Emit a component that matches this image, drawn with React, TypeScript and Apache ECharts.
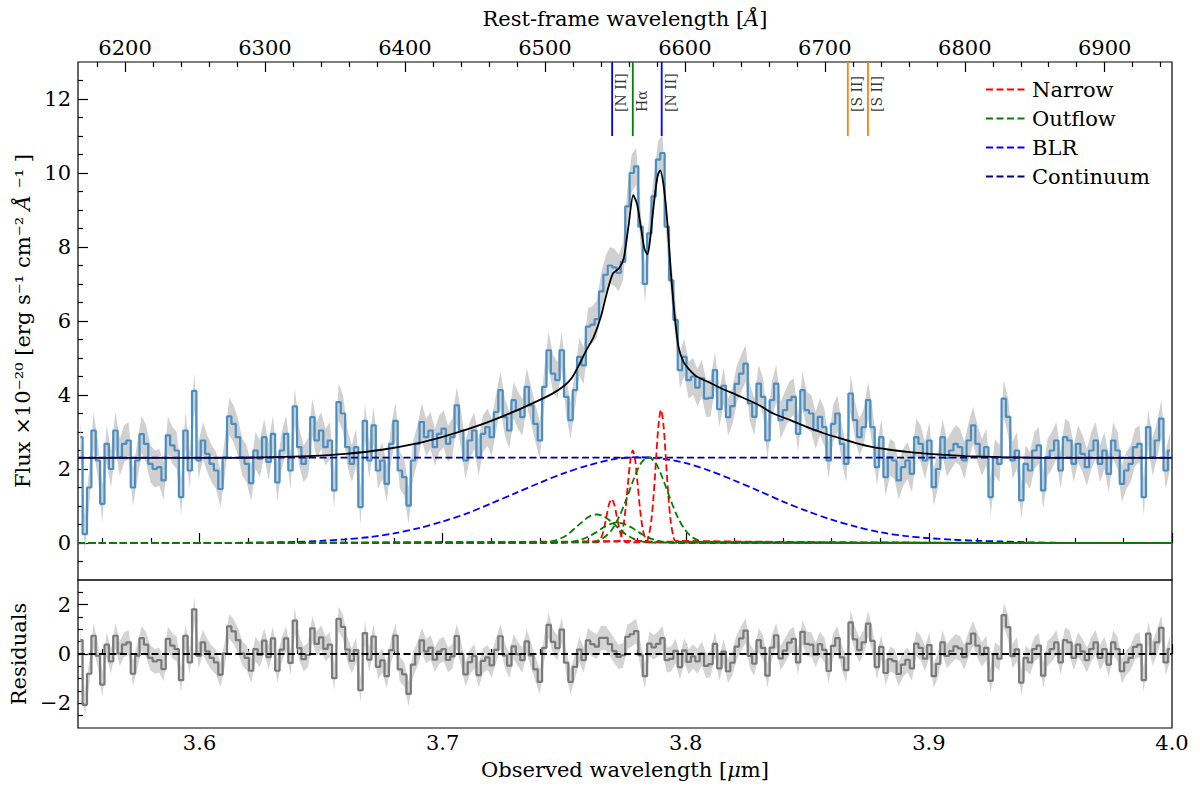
import { useEffect, useRef } from 'react';
import * as echarts from 'echarts';

const FONT = 'DejaVu Serif';

// observed wavelength range [um] and the (1+z) factor linking it to the rest frame
const OBS_MIN = 3.55;
const OBS_MAX = 4.0;
const ONE_PLUS_Z = 5.757;
const REST_MIN = (OBS_MIN * 1e4) / ONE_PLUS_Z;
const REST_MAX = (OBS_MAX * 1e4) / ONE_PLUS_Z;

// spectrum pixel grid [um]
const WAVE_START = 3.551;
const WAVE_STEP = 0.0018;

// observed flux, x1e-20 erg/s/cm2/A, one value per pixel
const FLUX = [
  2.86, 0.24, 1.5, 3.04, 2.23, 1.06, 2.68, 2.0, 3.04, 2.32,
  2.68, 2.77, 1.5, 2.23, 2.94, 2.68, 2.14, 2.0, 2.05, 1.69,
  2.91, 2.64, 2.5, 1.24, 3.04, 1.96, 4.11, 2.23, 2.77, 2.41,
  2.14, 1.96, 1.46, 2.32, 3.42, 3.22, 2.86, 2.32, 2.14, 1.62,
  2.5, 2.28, 2.86, 2.19, 2.95, 1.64, 2.5, 2.95, 1.96, 3.69,
  2.59, 2.14, 2.32, 3.4, 2.77, 3.04, 2.59, 2.77, 1.42, 3.81,
  3.5, 2.59, 2.14, 2.59, 0.97, 3.3, 2.23, 3.18, 1.96, 2.23,
  1.6, 2.68, 3.3, 1.96, 1.78, 1.01, 2.23, 2.68, 3.27, 2.86,
  3.04, 2.59, 2.95, 3.09, 2.68, 2.86, 3.72, 3.04, 2.23, 2.77,
  3.04, 2.32, 2.95, 3.13, 2.86, 3.54, 4.13, 3.4, 3.04, 3.86,
  3.59, 3.4, 4.22, 3.72, 3.22, 2.77, 4.22, 5.21, 4.58, 4.4,
  5.21, 3.95, 3.32, 4.13, 5.03, 4.8, 5.85, 5.9, 6.05, 6.8,
  7.25, 7.5, 7.45, 7.3, 7.6, 9.1, 10.0, 10.18, 8.55, 7.0,
  8.37, 9.37, 10.36, 10.54, 8.55, 7.1, 6.03, 4.67, 5.03, 4.4,
  4.5, 4.2, 4.45, 3.9, 3.92, 4.67, 3.62, 4.25, 3.4, 3.7,
  4.3, 4.58, 4.85, 3.77, 3.41, 4.31, 3.95, 2.77, 3.86, 4.31,
  3.32, 3.59, 3.86, 3.95, 2.95, 4.13, 3.59, 3.5, 3.04, 3.41,
  3.13, 2.23, 3.22, 3.5, 2.68, 2.14, 4.04, 3.32, 2.86, 3.13,
  3.86, 3.13, 2.05, 2.86, 1.78, 2.32, 2.23, 1.69, 2.05, 2.23,
  1.87, 2.86, 2.68, 2.23, 2.77, 1.51, 2.0, 2.86, 2.3, 2.5,
  2.68, 2.59, 2.23, 2.77, 3.18, 2.68, 2.32, 2.59, 1.24, 2.32,
  2.14, 3.9, 3.41, 2.23, 2.5, 1.15, 2.14, 1.96, 2.5, 2.64,
  1.42, 2.32, 2.5, 2.77, 1.96, 2.86, 2.77, 2.14, 2.68, 2.41,
  2.05, 2.5, 2.77, 2.14, 2.5, 1.87, 2.77, 2.5, 1.6, 1.96,
  2.14, 2.59, 2.68, 1.24, 3.13, 2.32, 2.77, 3.36, 1.96, 2.5,
];
const FLUX_ERR = 0.5;

// data minus model, same pixels
const RESIDUALS = [
  0.56, -2.06, -0.8, 0.74, -0.07, -1.24, 0.38, -0.3, 0.74, 0.02,
  0.38, 0.47, -0.8, -0.07, 0.64, 0.38, -0.16, -0.3, -0.25, -0.61,
  0.61, 0.34, 0.2, -1.06, 0.74, -0.34, 1.81, -0.07, 0.47, 0.11,
  -0.16, -0.34, -0.84, 0.02, 1.12, 0.92, 0.56, 0.02, -0.16, -0.68,
  0.2, -0.04, 0.54, -0.13, 0.63, -0.68, 0.18, 0.63, -0.36, 1.35,
  0.24, -0.21, -0.04, 1.04, 0.41, 0.67, 0.21, 0.38, -0.98, 1.42,
  1.1, 0.18, -0.28, 0.16, -1.47, 0.85, -0.23, 0.71, -0.52, -0.26,
  -0.9, 0.16, 0.75, -0.62, -0.83, -1.62, -0.43, -0.01, 0.55, 0.11,
  0.26, -0.23, 0.1, 0.2, -0.24, -0.1, 0.73, 0.01, -0.83, -0.33,
  -0.09, -0.86, -0.28, -0.14, -0.46, 0.17, 0.72, -0.06, -0.47, 0.31,
  -0.01, -0.25, 0.51, -0.06, -0.62, -1.13, 0.25, 1.18, 0.49, 0.24,
  0.99, -0.35, -1.13, -0.52, 0.18, -0.25, 0.55, 0.4, 0.3, 0.65,
  0.65, 0.4, 0.12, -0.12, -0.05, 0.7, 0.8, 0.93, -0.05, -0.9,
  0.42, 0.27, 0.41, 0.64, -0.25, -0.2, 0.13, -0.53, 0.15, -0.32,
  -0.1, -0.3, 0.02, -0.48, -0.41, 0.41, -0.58, 0.1, -0.7, -0.35,
  0.3, 0.63, 0.95, -0.08, -0.39, 0.56, 0.25, -0.88, 0.26, 0.76,
  -0.18, 0.14, 0.46, 0.61, -0.34, 0.9, 0.41, 0.38, -0.03, 0.4,
  0.17, -0.69, 0.33, 0.64, -0.14, -0.65, 1.28, 0.59, 0.16, 0.47,
  1.23, 0.53, -0.53, 0.29, -0.77, -0.21, -0.29, -0.81, -0.43, -0.24,
  -0.58, 0.42, 0.25, -0.19, 0.36, -0.9, -0.4, 0.47, -0.08, 0.12,
  0.31, 0.23, -0.13, 0.42, 0.83, 0.34, -0.02, 0.25, -1.09, -0.01,
  -0.19, 1.58, 1.09, -0.09, 0.19, -1.16, -0.16, -0.34, 0.2, 0.34,
  -0.88, 0.02, 0.2, 0.47, -0.34, 0.56, 0.47, -0.16, 0.38, 0.11,
  -0.25, 0.2, 0.47, -0.16, 0.2, -0.43, 0.47, 0.2, -0.7, -0.34,
  -0.16, 0.29, 0.38, -1.06, 0.83, 0.02, 0.47, 1.06, -0.34, 0.2,
];
const RESID_ERR = 0.5;

// best-fit total model (black line)
const MODEL_WAVE = [
  3.55, 3.58, 3.61, 3.63, 3.645, 3.66, 3.675, 3.69, 3.7, 3.71,
  3.72, 3.73, 3.74, 3.745, 3.75, 3.753, 3.756, 3.759, 3.762, 3.765,
  3.7675, 3.77, 3.7725, 3.7745, 3.7765, 3.7784, 3.78, 3.7815, 3.783, 3.7842,
  3.7855, 3.787, 3.7885, 3.7895, 3.791, 3.7925, 3.794, 3.7955, 3.797, 3.799,
  3.801, 3.804, 3.807, 3.81, 3.815, 3.822, 3.83, 3.836, 3.843, 3.85,
  3.857, 3.864, 3.87, 3.877, 3.884, 3.891, 3.898, 3.905, 3.915, 3.93,
  3.95, 4.0,
];
const MODEL_FLUX = [
  2.3, 2.3, 2.3, 2.32, 2.35, 2.41, 2.52, 2.7, 2.87, 3.07,
  3.3, 3.57, 3.87, 4.03, 4.25, 4.45, 4.8, 5.2, 5.55, 6.1,
  6.75, 7.28, 7.42, 7.7, 8.6, 9.4, 9.15, 8.55, 7.95, 7.8,
  8.3, 9.25, 9.95, 10.07, 9.6, 8.6, 7.2, 6.1, 5.3, 4.9,
  4.72, 4.52, 4.42, 4.33, 4.17, 3.97, 3.73, 3.5, 3.32, 3.13,
  2.96, 2.82, 2.7, 2.59, 2.52, 2.46, 2.42, 2.39, 2.35, 2.32,
  2.3, 2.3,
];

const CONTINUUM = 2.31;

// broad line region component, sampled every 0.01 um from 3.55
const BLR_WAVE_START = 3.55;
const BLR_WAVE_STEP = 0.01;
const BLR_FLUX = [
  0, 0, 0, 0, 0, 0, 0, 0.01, 0.02, 0.03,
  0.06, 0.1, 0.16, 0.26, 0.4, 0.58, 0.8, 1.07, 1.35, 1.63,
  1.89, 2.1, 2.26, 2.32, 2.28, 2.16, 1.95, 1.69, 1.41, 1.12,
  0.86, 0.63, 0.44, 0.29, 0.19, 0.13, 0.09, 0.06, 0.04, 0.02,
  0.01, 0, 0, 0, 0, 0,
];

// narrow components ([N II] 6548, Ha, [N II] 6583), sampled every 0.001 um about each centre
const NARROW_STEP = 0.001;
const NARROW_CENTERS = [3.7695, 3.7782, 3.7898];
const NARROW_NII_A = [0.02, 0.07, 0.19, 0.43, 0.76, 1.06, 1.19, 1.06, 0.76, 0.43, 0.19, 0.07, 0.02];
const NARROW_HA = [0.04, 0.15, 0.41, 0.9, 1.59, 2.23, 2.5, 2.23, 1.59, 0.9, 0.41, 0.15, 0.04];
const NARROW_NII_B = [0.06, 0.21, 0.59, 1.3, 2.29, 3.21, 3.6, 3.21, 2.29, 1.3, 0.59, 0.21, 0.06];

// outflow components, sampled every 0.003 um about each centre
const OUTFLOW_STEP = 0.003;
const OUTFLOW_CENTERS = [3.7634, 3.7719, 3.7846];
const OUTFLOW_NII_A = [0.01, 0.02, 0.05, 0.12, 0.23, 0.4, 0.57, 0.72, 0.77, 0.72, 0.57, 0.4, 0.23, 0.12, 0.05, 0.02, 0.01];
const OUTFLOW_HA = [0, 0.01, 0.04, 0.09, 0.17, 0.28, 0.41, 0.51, 0.55, 0.51, 0.41, 0.28, 0.17, 0.09, 0.04, 0.01, 0];
const OUTFLOW_NII_B = [0.02, 0.06, 0.16, 0.36, 0.71, 1.19, 1.73, 2.16, 2.32, 2.16, 1.73, 1.19, 0.71, 0.36, 0.16, 0.06, 0.02];

// emission line markers (rest frame, Angstrom)
const LINE_NAMES = ['[N II]', 'Hα', '[N II]', '[S II]', '[S II]'];
const LINE_REST = [6548.05, 6562.8, 6583.45, 6716.44, 6730.82];
const LINE_COLORS = ['#0000ff', '#008000', '#0000ff', '#ff7f0e', '#ff7f0e'];
const MARKER_RANGE = [11, 13];
const MARKER_LABEL_Y = 11.65;

const OBS_TICKS = [3.6, 3.7, 3.8, 3.9, 4.0];
const REST_TICKS = [6200, 6300, 6400, 6500, 6600, 6700, 6800, 6900];
const FLUX_TICKS = [0, 2, 4, 6, 8, 10, 12];
const RESID_TICKS = [-2, 0, 2];

const minorTicks = (from: number, to: number, step: number, major: number[]) => {
  const out: number[] = [];
  for (let v = from; v <= to + 1e-9; v += step) {
    const r = Math.round(v * 1000) / 1000;
    if (!major.some((m) => Math.abs(m - r) < 1e-6)) out.push(r);
  }
  return out;
};

const wave = FLUX.map((_, i) => +(WAVE_START + i * WAVE_STEP).toFixed(4));
const blrWave = BLR_FLUX.map((_, i) => +(BLR_WAVE_START + i * BLR_WAVE_STEP).toFixed(4));

const profile = (center: number, step: number, values: number[]) => [
  [OBS_MIN, 0],
  ...values.map((v, k) => [+(center + (k - (values.length - 1) / 2) * step).toFixed(4), v]),
  [OBS_MAX, 0],
];

const FS = 21;
const tickStyle = { color: '#000', width: 1.2 };
const labelStyle = { fontFamily: FONT, fontSize: FS, color: '#000' };
const nameStyle = {
  fontFamily: FONT,
  fontSize: FS,
  color: '#000',
  rich: { i: { fontFamily: FONT, fontSize: FS, fontStyle: 'italic', color: '#000' } },
};
const minus = (v: number) => (v < 0 ? '\u2212' + Math.abs(v) : String(v));

function tickAxis(gridIndex: number, position: string, min: number, max: number, ticks: number[], length: number) {
  return {
    type: 'value',
    gridIndex,
    position,
    min,
    max,
    axisLine: { show: false },
    splitLine: { show: false },
    axisTick: { show: true, inside: true, length, customValues: ticks, lineStyle: tickStyle },
    axisLabel: { show: false },
  };
}

// error band (value +/- err) as one polygon through the axes' own coordinates
function bandSeries(id: string, values: number[], err: number, xi: number, yi: number, color: string) {
  return {
    type: 'custom',
    name: id,
    xAxisIndex: xi,
    yAxisIndex: yi,
    silent: true,
    clip: true,
    z: 1,
    data: [[wave[0], values[0]]],
    renderItem: (_params: any, api: any) => {
      const upper = values.map((v, i) => api.coord([wave[i], v + err]));
      const lower = values.map((v, i) => api.coord([wave[i], v - err])).reverse();
      return { type: 'polygon', shape: { points: [...upper, ...lower] }, style: { fill: color } };
    },
  };
}

const DASH = [7, 3.5];
function component(name: string, data: number[][], color: string, smooth: number) {
  return {
    type: 'line',
    name,
    xAxisIndex: 0,
    yAxisIndex: 0,
    data,
    symbol: 'none',
    smooth,
    silent: true,
    lineStyle: { color, width: 1.8, type: DASH },
    itemStyle: { color },
    z: 4,
  };
}

export default function App() {
  const chartRef = useRef<HTMLDivElement>(null);

  useEffect(() => {
    if (!chartRef.current) return;
    document.body.style.margin = '0';
    const chart = echarts.init(chartRef.current, null, { renderer: 'svg' });

    const gridBase = { left: 78, right: 28, show: true, borderColor: '#000', borderWidth: 1.2, backgroundColor: 'transparent', outerBoundsMode: 'none' };

    const xAxis = [
      tickAxis(0, 'bottom', OBS_MIN, OBS_MAX, OBS_TICKS, 10),
      tickAxis(0, 'bottom', OBS_MIN, OBS_MAX, minorTicks(3.56, 3.98, 0.02, OBS_TICKS), 5),
      {
        ...tickAxis(0, 'top', REST_MIN, REST_MAX, REST_TICKS, 10),
        axisLabel: { show: true, customValues: REST_TICKS, margin: 4, formatter: (v: number) => String(Math.round(v)), ...labelStyle },
        name: 'Rest-frame wavelength [{i|Å}]',
        nameLocation: 'middle',
        nameGap: 33,
        nameTextStyle: nameStyle,
      },
      tickAxis(0, 'top', REST_MIN, REST_MAX, minorTicks(6180, 6940, 20, REST_TICKS), 5),
      {
        ...tickAxis(1, 'bottom', OBS_MIN, OBS_MAX, OBS_TICKS, 10),
        axisLabel: { show: true, customValues: OBS_TICKS, margin: 4, formatter: (v: number) => v.toFixed(1), ...labelStyle },
        name: 'Observed wavelength [{i|μ}m]',
        nameLocation: 'middle',
        nameGap: 31,
        nameTextStyle: nameStyle,
      },
      tickAxis(1, 'bottom', OBS_MIN, OBS_MAX, minorTicks(3.56, 3.98, 0.02, OBS_TICKS), 5),
    ];

    const yAxis = [
      {
        ...tickAxis(0, 'left', -1, 13, FLUX_TICKS, 10),
        axisLabel: { show: true, customValues: FLUX_TICKS, margin: 7, formatter: minus, ...labelStyle },
        name: 'Flux ×10⁻²⁰ [erg s⁻¹ cm⁻² {i|Å} ⁻¹ ]',
        nameLocation: 'middle',
        nameGap: 44,
        nameTextStyle: nameStyle,
      },
      tickAxis(0, 'left', -1, 13, minorTicks(-0.5, 12.5, 0.5, FLUX_TICKS), 5),
      {
        ...tickAxis(1, 'left', -3, 3, RESID_TICKS, 10),
        axisLabel: { show: true, customValues: RESID_TICKS, margin: 7, formatter: minus, ...labelStyle },
        name: 'Residuals',
        nameLocation: 'middle',
        nameGap: 44,
        nameTextStyle: nameStyle,
      },
      tickAxis(1, 'left', -3, 3, minorTicks(-2.5, 2.5, 0.5, RESID_TICKS), 5),
    ];

    const series: any[] = [
      bandSeries('fluxErr', FLUX, FLUX_ERR, 0, 0, '#d0d0d0'),
      {
        type: 'line',
        name: 'data',
        xAxisIndex: 0,
        yAxisIndex: 0,
        data: FLUX.map((v, i) => [wave[i], v]),
        step: 'middle',
        symbol: 'none',
        silent: true,
        lineStyle: { color: '#4a8fc4', width: 2.2 },
        z: 2,
      },
      {
        type: 'line',
        name: 'model',
        xAxisIndex: 0,
        yAxisIndex: 0,
        data: MODEL_WAVE.map((w, i) => [w, MODEL_FLUX[i]]),
        smooth: 0.25,
        symbol: 'none',
        silent: true,
        lineStyle: { color: '#000', width: 1.8 },
        z: 3,
      },
      component('Continuum', [[OBS_MIN, CONTINUUM], [OBS_MAX, CONTINUUM]], '#000080', 0),
      component('BLR', blrWave.map((w, i) => [w, BLR_FLUX[i]]), '#0000ff', 0.3),
      component('Narrow', profile(NARROW_CENTERS[0], NARROW_STEP, NARROW_NII_A), '#ff0000', 0.3),
      component('Narrow', profile(NARROW_CENTERS[1], NARROW_STEP, NARROW_HA), '#ff0000', 0.3),
      component('Narrow', profile(NARROW_CENTERS[2], NARROW_STEP, NARROW_NII_B), '#ff0000', 0.3),
      component('Outflow', profile(OUTFLOW_CENTERS[0], OUTFLOW_STEP, OUTFLOW_NII_A), '#008000', 0.3),
      component('Outflow', profile(OUTFLOW_CENTERS[1], OUTFLOW_STEP, OUTFLOW_HA), '#008000', 0.3),
      component('Outflow', profile(OUTFLOW_CENTERS[2], OUTFLOW_STEP, OUTFLOW_NII_B), '#008000', 0.3),
      ...LINE_REST.map((rest, k) => ({
        type: 'line',
        name: 'marker' + k,
        xAxisIndex: 2,
        yAxisIndex: 0,
        data: MARKER_RANGE.map((y) => [rest, y]),
        symbol: 'none',
        silent: true,
        lineStyle: { color: LINE_COLORS[k], width: 1.8 },
        z: 5,
      })),
      {
        type: 'scatter',
        name: 'marker-labels',
        xAxisIndex: 2,
        yAxisIndex: 0,
        symbolSize: 0,
        silent: true,
        data: LINE_REST.map((rest, k) => ({ name: LINE_NAMES[k], value: [rest, MARKER_LABEL_Y] })),
        label: {
          show: true,
          formatter: '{b}',
          position: 'inside',
          offset: [0, 9],
          rotate: 90,
          align: 'left',
          verticalAlign: 'middle',
          fontFamily: FONT,
          fontSize: 14,
          color: '#000',
        },
        z: 5,
      },
      bandSeries('residErr', RESIDUALS, RESID_ERR, 4, 2, '#d4d4d4'),
      {
        type: 'line',
        name: 'residuals',
        xAxisIndex: 4,
        yAxisIndex: 2,
        data: RESIDUALS.map((v, i) => [wave[i], v]),
        step: 'middle',
        symbol: 'none',
        silent: true,
        lineStyle: { color: '#7a7a7a', width: 2.2 },
        z: 2,
      },
      {
        type: 'line',
        name: 'zero',
        xAxisIndex: 4,
        yAxisIndex: 2,
        data: [[OBS_MIN, 0], [OBS_MAX, 0]],
        symbol: 'none',
        silent: true,
        lineStyle: { color: '#000', width: 1.8, type: DASH },
        z: 3,
      },
    ];

    chart.setOption({
      animation: false,
      backgroundColor: '#fff',
      textStyle: { fontFamily: FONT },
      grid: [
        { ...gridBase, top: 62, height: 518 },
        { ...gridBase, top: 580, height: 148 },
      ],
      legend: {
        data: ['Narrow', 'Outflow', 'BLR', 'Continuum'],
        orient: 'vertical',
        left: 985,
        top: 79,
        itemWidth: 41,
        itemHeight: 14,
        itemGap: 8,
        padding: 0,
        selectedMode: false,
        itemStyle: { opacity: 0 },
        textStyle: { fontFamily: FONT, fontSize: FS, color: '#000', lineHeight: 20 },
      },
      xAxis,
      yAxis,
      series,
    });

    return () => chart.dispose();
  }, []);

  return <div ref={chartRef} style={{ width: 1200, height: 791 }} />;
}
